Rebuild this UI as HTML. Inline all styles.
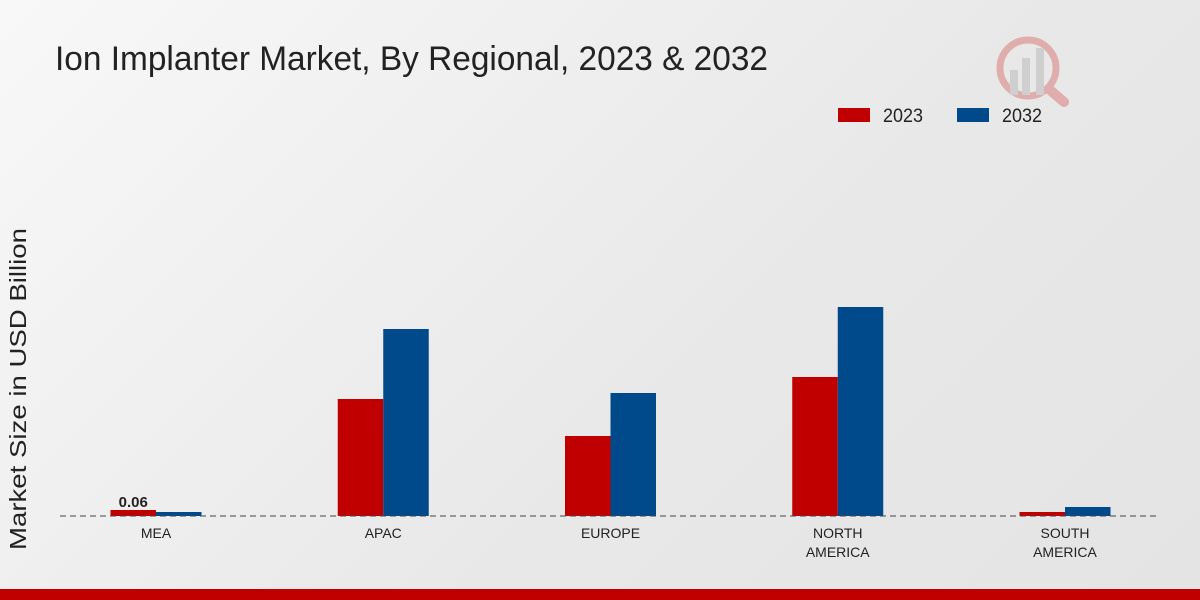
<!DOCTYPE html>
<html><head><meta charset="utf-8"><style>
body{margin:0;width:1200px;height:600px;overflow:hidden;background:linear-gradient(135deg,#f8f8f8 0%,#e8e8e8 60%,#e4e4e4 100%);font-family:"Liberation Sans",sans-serif;}
svg{position:absolute;left:0;top:0}
</style></head><body>
<svg width="1200" height="600">
<text x="55" y="70" font-size="34" fill="#222" textLength="713" lengthAdjust="spacingAndGlyphs">Ion Implanter Market, By Regional, 2023 &amp; 2032</text>
<g opacity="0.25">
<circle cx="1028" cy="68" r="28" fill="none" stroke="#c00" stroke-width="7"/>
<line x1="1050" y1="90" x2="1064" y2="102" stroke="#c00" stroke-width="10" stroke-linecap="round"/>
<rect x="1010" y="70" width="8" height="25" fill="#888"/><rect x="1022" y="58" width="8" height="37" fill="#888"/><rect x="1036" y="48" width="8" height="47" fill="#888"/>
</g>
<g>
<rect x="838" y="108" width="32" height="14" fill="#c00000"/>
<text x="883" y="122" font-size="19" fill="#222" textLength="40" lengthAdjust="spacingAndGlyphs">2023</text>
<rect x="957" y="108" width="32" height="14" fill="#004a8b"/>
<text x="1002" y="122" font-size="19" fill="#222" textLength="40" lengthAdjust="spacingAndGlyphs">2032</text>
</g>
<text transform="translate(26,389) rotate(-90)" x="-161" y="0" font-size="23" fill="#222" textLength="322" lengthAdjust="spacingAndGlyphs">Market Size in USD Billion</text>
<g id="bars"></g>
<line x1="60" y1="516" x2="1160" y2="516" stroke="#444" stroke-dasharray="6,4"/>
<g id="labels"></g>
<rect x="0" y="589" width="1200" height="11" fill="#c00000"/>
</svg>
<script>
const categories=[["MEA"],["APAC"],["EUROPE"],["NORTH","AMERICA"],["SOUTH","AMERICA"]];
const values2023=[0.06,1.17,0.80,1.39,0.04];
const values2032=[0.04,1.87,1.23,2.09,0.09];
const valueLabels=["0.06","","","",""];
const ns="http://www.w3.org/2000/svg";
const x0=156,step=227.25,bw=45.5,base=516,scale=100;
const xs=i=>x0+i*step, ys=v=>base-v*scale;
const bars=document.getElementById('bars'),labels=document.getElementById('labels');
function mk(t,a){const e=document.createElementNS(ns,t);for(const k in a)e.setAttribute(k,a[k]);return e;}
categories.forEach((c,i)=>{
 const cx=xs(i);
 const r=mk('rect',{x:cx-bw,y:ys(values2023[i]),width:bw,height:values2023[i]*scale,fill:'#c00000'});
 
 
 bars.appendChild(r);
 const b=mk('rect',{x:cx,y:ys(values2032[i]),width:bw,height:values2032[i]*scale,fill:'#004a8b'});
 
 
 bars.appendChild(b);
 if(valueLabels[i]){const t=mk('text',{x:cx-bw/2,y:ys(values2023[i])-3,'text-anchor':'middle','font-size':15,'font-weight':'bold',fill:'#222'});t.textContent=valueLabels[i];
 
 
 labels.appendChild(t);}
 c.forEach((ln,j)=>{const t=mk('text',{x:cx,y:538+j*19,'text-anchor':'middle','font-size':14,fill:'#222'});t.textContent=ln;
 
 
 labels.appendChild(t);});
});
</script>
</body></html>
